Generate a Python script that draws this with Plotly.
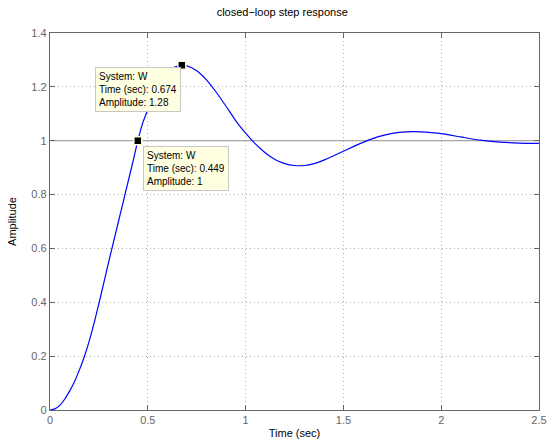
import plotly.graph_objects as go

# step response
time = [0.0, 0.025, 0.05, 0.075, 0.1, 0.125, 0.15, 0.175, 0.2, 0.225, 0.25, 0.275,
        0.3, 0.325, 0.35, 0.375, 0.4, 0.425, 0.449, 0.475, 0.5, 0.525, 0.55, 0.575,
        0.6, 0.625, 0.65, 0.674, 0.7, 0.75, 0.8, 0.85, 0.9, 0.95, 1.0, 1.05, 1.1,
        1.15, 1.2, 1.25, 1.3, 1.35, 1.4, 1.45, 1.5, 1.55, 1.6, 1.65, 1.7, 1.75,
        1.8, 1.85, 1.9, 1.95, 2.0, 2.1, 2.2, 2.3, 2.4, 2.5]
amplitude = [0.0, 0.004, 0.017, 0.04, 0.07, 0.105, 0.148, 0.197, 0.255, 0.322, 0.395, 0.472,
             0.55, 0.625, 0.7, 0.775, 0.85, 0.925, 1.0, 1.068, 1.115, 1.16, 1.198, 1.228,
             1.252, 1.268, 1.277, 1.28, 1.278, 1.26, 1.226, 1.18, 1.128, 1.074, 1.028, 0.988, 0.955,
             0.93, 0.915, 0.908, 0.908, 0.915, 0.928, 0.944, 0.961, 0.978, 0.994, 1.008, 1.019, 1.027,
             1.032, 1.034, 1.033, 1.03, 1.026, 1.014, 1.002, 0.995, 0.991, 0.99]

tip_t = [0.674, 0.449]
tip_y = [1.28, 1.0]
tip_box_x = [0.23, 0.475]
tip_box_y = [1.272, 0.982]
steady_state = 1.0

x_ticks = [0, 0.5, 1, 1.5, 2, 2.5]
x_ticktext = ["0", "0.5", "1", "1.5", "2", "2.5"]
y_ticks = [0, 0.2, 0.4, 0.6, 0.8, 1, 1.2, 1.4]
y_ticktext = ["0", "0.2", "0.4", "0.6", "0.8", "1", "1.2", "1.4"]

FONT = "Liberation Sans, Arial, Helvetica, sans-serif"

fig = go.Figure()
fig.add_shape(type="line", x0=0, x1=2.5, y0=steady_state, y1=steady_state,
              xref="x", yref="y", line=dict(color="#8c8c8c", width=1), layer="below")
fig.add_trace(go.Scatter(x=time, y=amplitude, mode="lines",
                         line=dict(color="#0000ff", width=1.2, shape="spline", smoothing=0.6),
                         showlegend=False, hoverinfo="skip", cliponaxis=False))
fig.add_trace(go.Scatter(x=tip_t, y=tip_y, mode="markers",
                         marker=dict(symbol="square", size=8, color="black",
                                     line=dict(color="#ffffe0", width=1.5)),
                         showlegend=False, hoverinfo="skip"))

for t, a, bx, by in zip(tip_t, tip_y, tip_box_x, tip_box_y):
    txt = "System: W<br>Time (sec): %g<br>Amplitude: %g" % (t, a)
    fig.add_annotation(x=bx, y=by, xref="x", yref="y", text=txt, showarrow=False,
                       xanchor="left", yanchor="top", align="left",
                       bgcolor="#ffffe1", bordercolor="#c8c8c8", borderwidth=1, borderpad=3,
                       font=dict(family=FONT, size=10, color="black"))

axis_common = dict(showline=True, linecolor="#666666", linewidth=1.3, mirror="ticks",
                   ticks="inside", ticklen=5, tickcolor="#666666", automargin=False,
                   ticklabeloverflow="allow",
                   showgrid=True, gridcolor="#b0b0b0", griddash="1px,3px", gridwidth=1,
                   zeroline=False, tickfont=dict(family=FONT, size=11, color="#666666"))

fig.update_xaxes(range=[0, 2.5], tickvals=x_ticks, ticktext=x_ticktext,
                 title=dict(text="Time (sec)", font=dict(family=FONT, size=11, color="black"), standoff=5),
                 **axis_common)
fig.update_yaxes(range=[0, 1.4], tickvals=y_ticks, ticktext=y_ticktext,
                 title=dict(text="Amplitude", font=dict(family=FONT, size=11, color="black"), standoff=12),
                 **axis_common)

fig.update_layout(
    width=548, height=439,
    margin=dict(l=50, r=9, t=33, b=29),
    paper_bgcolor="white", plot_bgcolor="white",
    title=dict(text="closed\u2212loop step response", x=0.515, xanchor="center",
               y=1 - 12 / 439, yanchor="middle",
               font=dict(family=FONT, size=11, color="black")),
)

fig.write_html("out.html", config={"displayModeBar": False},
               post_script="document.body.style.margin='0';document.body.style.overflow='hidden';")
